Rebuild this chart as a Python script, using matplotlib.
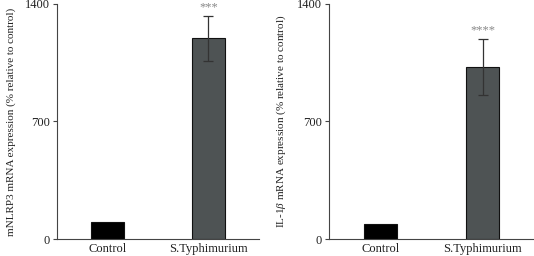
import matplotlib
matplotlib.use("Agg")
import matplotlib.pyplot as plt

plt.rcParams["font.family"] = ["Liberation Serif", "DejaVu Serif"]
plt.rcParams["mathtext.fontset"] = "custom"
plt.rcParams["mathtext.rm"] = "Liberation Serif"
plt.rcParams["mathtext.it"] = "Liberation Serif:italic"

groups = ["Control", "S.Typhimurium"]

# mNLRP3 panel
nlrp3_mean = [100, 1195]
nlrp3_err = [0, 133]
nlrp3_sig = "***"

# IL-1b panel
il1b_mean = [91, 1025]
il1b_err = [0, 168]
il1b_sig = "****"

yticks = [0, 700, 1400]
bar_colors = ["#000000", "#4e5354"]

fig = plt.figure(figsize=(5.34, 2.56), dpi=100)
ax1 = fig.add_axes([0.1067, 0.0664, 0.378, 0.918])
ax2 = fig.add_axes([0.616, 0.0664, 0.384, 0.918])

panels = [
    (ax1, nlrp3_mean, nlrp3_err, nlrp3_sig, "mNLRP3 mRNA expression (% relative to control)", -0.205),
    (ax2, il1b_mean, il1b_err, il1b_sig, "IL-1$\\beta$ mRNA expression (% relative to control)", -0.20),
]

for ax, mean, err, sig, ylabel, lx in panels:
    x = list(range(len(groups)))
    ax.bar(x, mean, width=0.32, color=bar_colors, edgecolor="#111111", linewidth=0.8)
    ax.errorbar(x[1], mean[1], yerr=err[1], fmt="none", ecolor="#333333",
                elinewidth=0.9, capsize=3.5, capthick=0.9)
    ax.annotate(sig, (x[1], mean[1] + err[1]), xytext=(0, 2), textcoords="offset points",
                ha="center", va="bottom", fontsize=9, color="#888888")
    ax.set_xlim(-0.5, 1.5)
    ax.set_ylim(0, 1400)
    ax.set_yticks(yticks)
    ax.set_xticks(x)
    ax.set_xticklabels(groups)
    ax.set_ylabel(ylabel, fontsize=8, color="#222222")
    ax.yaxis.set_label_coords(lx, 0.5)
    ax.spines["top"].set_visible(False)
    ax.spines["right"].set_visible(False)
    for s in ["left", "bottom"]:
        ax.spines[s].set_color("#444444")
        ax.spines[s].set_linewidth(0.8)
    ax.tick_params(axis="y", length=3, width=0.8, color="#444444", labelsize=9, labelcolor="#222222", pad=2)
    ax.tick_params(axis="x", length=0, labelsize=9, labelcolor="#222222", pad=3)

fig.savefig("out.png", dpi=100)
